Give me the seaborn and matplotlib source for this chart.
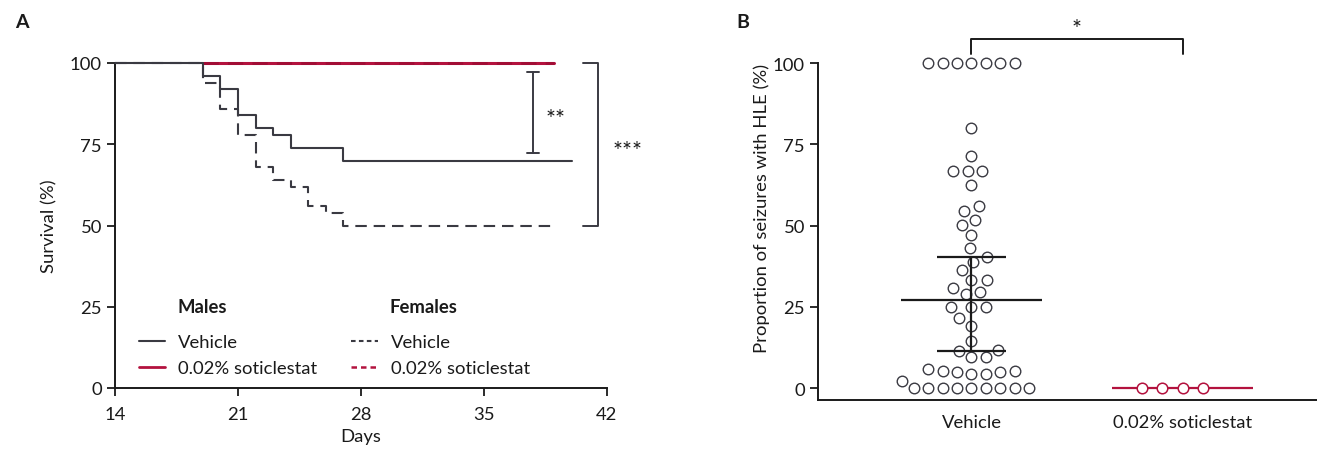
import numpy as np
import pandas as pd
import matplotlib
matplotlib.use("Agg")
import matplotlib.pyplot as plt
from matplotlib.lines import Line2D
import seaborn as sns

# ---------------- Panel A data (Kaplan-Meier steps) ----------------
male_vehicle_days = [14, 19, 20, 21, 22, 23, 24, 27, 40]
male_vehicle_surv = [100, 96, 92, 84, 80, 78, 74, 70, 70]
female_vehicle_days = [14, 19, 20, 21, 22, 23, 24, 25, 26, 27, 39]
female_vehicle_surv = [100, 94, 86, 78, 68, 64, 62, 56, 54, 50, 50]
male_sotic_days = [19, 39]
male_sotic_surv = [100, 100]
female_sotic_days = [19, 39]
female_sotic_surv = [100, 100]

a_xticks = [14, 21, 28, 35, 42]
a_yticks = [0, 25, 50, 75, 100]

# ---------------- Panel B data ----------------
groups = ["Vehicle", "0.02% soticlestat"]
vehicle_hle = [100, 100, 100, 100, 100, 100, 100,
               80, 71.5, 66.7, 66.7, 66.7, 62.6, 55.9, 54.6, 51.8, 50.3,
               47.2, 43.0, 40.2, 38.9, 36.4, 33.3, 33.3, 30.8, 29.6, 28.9,
               25, 25, 25, 21.5, 19.2, 14.6, 11.8, 11.3, 9.4, 9.4,
               5.8, 5.3, 5.3, 4.8, 4.8, 4.3, 4.3, 2.3,
               0, 0, 0, 0, 0, 0, 0, 0, 0]
sotic_hle = [0, 0, 0, 0]
b_yticks = [0, 25, 50, 75, 100]

DARK = "#3a3a42"
RED = "#b3123e"
RED_DARK = "#a00d35"
TXT = "#1a1a1a"
FS = 13.3
FS_STAR = 17

sns.set_theme(style="ticks")
plt.rcParams["font.family"] = ["Lato", "DejaVu Sans"]
plt.rcParams["text.color"] = TXT
plt.rcParams["axes.labelcolor"] = TXT
plt.rcParams["xtick.color"] = TXT
plt.rcParams["ytick.color"] = TXT

fig = plt.figure(figsize=(13.17, 4.52), dpi=100)
W, H = 1317, 452
axA = fig.add_axes([115 / W, (H - 389) / H, (607 - 115) / W, 325 / H])
axB = fig.add_axes([818 / W, (H - 401) / H, 1 - 818 / W, (401 - 15.25) / H])

# ---------------- Panel A ----------------
def km(ax, days, surv, color, ls, lw, z):
    d = pd.DataFrame({"day": days, "surv": surv})
    sns.lineplot(data=d, x="day", y="surv", ax=ax, color=color, linestyle=ls,
                 linewidth=lw, drawstyle="steps-post", estimator=None,
                 sort=False, clip_on=False, zorder=z)

dash = (0, (5.5, 3.3))
km(axA, male_sotic_days, male_sotic_surv, RED, "-", 2.2, 2)
km(axA, female_sotic_days, female_sotic_surv, RED_DARK, dash, 2.0, 3)
km(axA, male_vehicle_days, male_vehicle_surv, DARK, "-", 1.5, 4)
km(axA, female_vehicle_days, female_vehicle_surv, DARK, dash, 1.5, 5)

axA.set_xlim(14, 42)
axA.set_ylim(0, 100)
axA.set_xticks(a_xticks)
axA.set_yticks(a_yticks)
axA.set_xlabel("Days", fontsize=FS, labelpad=4)
axA.set_ylabel("Survival (%)", fontsize=FS, labelpad=9)
sns.despine(ax=axA)
for s in ["left", "bottom"]:
    axA.spines[s].set_linewidth(1.4)
    axA.spines[s].set_color(TXT)
axA.tick_params(axis="both", labelsize=FS, length=6, width=1.3, color=TXT)
axA.tick_params(axis="x", pad=7)

# significance brackets panel A
axA.plot([37.8, 37.8], [97.2, 72.4], color=DARK, lw=1.4, clip_on=False)
axA.plot([37.45, 38.15], [97.2, 97.2], color=DARK, lw=1.4, clip_on=False)
axA.plot([37.45, 38.15], [72.4, 72.4], color=DARK, lw=1.4, clip_on=False)
axA.text(38.5, 83.0, "**", fontsize=FS_STAR, va="center", ha="left")
axA.plot([40.65, 41.5, 41.5, 40.65], [100, 100, 50, 50], color=DARK, lw=1.4,
         clip_on=False)
axA.text(42.3, 73.0, "***", fontsize=FS_STAR, va="center", ha="left",
         clip_on=False)

# legend panel A
male_handles = [Line2D([], [], color=DARK, lw=1.5),
                Line2D([], [], color=RED, lw=2.0)]
female_handles = [Line2D([], [], color=DARK, lw=1.5, linestyle=(0, (2.2, 1.6))),
                  Line2D([], [], color=RED, lw=1.8, linestyle=(0, (2.2, 1.6)))]
leg_kw = dict(frameon=False, fontsize=FS, borderpad=0, borderaxespad=0,
              handlelength=1.45, handletextpad=0.7, labelspacing=0.52,
              loc="upper left")
leg1 = axA.legend(male_handles, ["Vehicle", "0.02% soticlestat"],
                  bbox_to_anchor=(0.048, 0.165), **leg_kw)
axA.add_artist(leg1)
axA.legend(female_handles, ["Vehicle", "0.02% soticlestat"],
           bbox_to_anchor=(0.48, 0.165), **leg_kw)
axA.text(0.127, 0.25, "Males", transform=axA.transAxes, fontsize=FS,
         fontweight="bold", va="center", ha="left")
axA.text(0.558, 0.25, "Females", transform=axA.transAxes, fontsize=FS,
         fontweight="bold", va="center", ha="left")

# ---------------- Panel B ----------------
df_b = pd.DataFrame({
    "group": [groups[0]] * len(vehicle_hle) + [groups[1]] * len(sotic_hle),
    "value": vehicle_hle + sotic_hle,
})
mark_size = 7.6
sns.swarmplot(data=df_b[df_b["group"] == groups[0]], x="group", y="value",
              order=groups, size=8.9, color="white", edgecolor=DARK,
              linewidth=1.0, ax=axB, zorder=2)
sns.swarmplot(data=df_b[df_b["group"] == groups[1]], x="group", y="value",
              order=groups, size=12.7, color="white", edgecolor=RED,
              linewidth=1.1, ax=axB, zorder=2)
axB.set_xlim(-0.727, 1.637)
axB.set_ylim(-3.69, 115)
axB.set_yticks(b_yticks)
axB.set_xlabel("")
axB.set_ylabel("Proportion of seizures with HLE (%)", fontsize=FS, labelpad=2)
sns.despine(ax=axB)
axB.spines["left"].set_bounds(-3.69, 100)
for s in ["left", "bottom"]:
    axB.spines[s].set_linewidth(1.4)
    axB.spines[s].set_color(TXT)
axB.tick_params(axis="y", labelsize=FS, length=6, width=1.3, color=TXT)
axB.tick_params(axis="x", labelsize=FS, length=0, pad=10)

# compute swarm layout once, then freeze positions and set final marker size
fig.canvas.draw()
for coll in axB.collections:
    if "draw" in vars(coll):
        del coll.draw
    coll.set_sizes([mark_size ** 2])

# median with 95% CI (rank-based)
v = np.sort(np.array(vehicle_hle, dtype=float))
n = len(v)
med = np.median(v)
lo = v[int(round(n / 2 - 1.96 * np.sqrt(n) / 2)) - 1]
hi = v[int(round(1 + n / 2 + 1.96 * np.sqrt(n) / 2)) - 1]
axB.hlines(med, -0.333, 0.333, color=TXT, lw=1.6, zorder=5)
axB.vlines(0, lo, hi, color=TXT, lw=1.6, zorder=5)
axB.hlines([lo, hi], -0.165, 0.165, color=TXT, lw=1.6, zorder=5)
axB.hlines(np.median(sotic_hle), 1 - 0.333, 1 + 0.333, color=RED, lw=1.6,
           zorder=1)

axB.plot([0, 0, 1, 1], [102.8, 107.4, 107.4, 102.8], color=TXT, lw=1.4,
         clip_on=False)
axB.text(0.5, 110.5, "*", fontsize=FS_STAR, ha="center", va="center")

fig.text(15 / W, 1 - 22 / H, "A", fontsize=14, fontweight="bold", va="center")
fig.text(736 / W, 1 - 22 / H, "B", fontsize=14, fontweight="bold", va="center")

fig.savefig("out.png", dpi=100)
